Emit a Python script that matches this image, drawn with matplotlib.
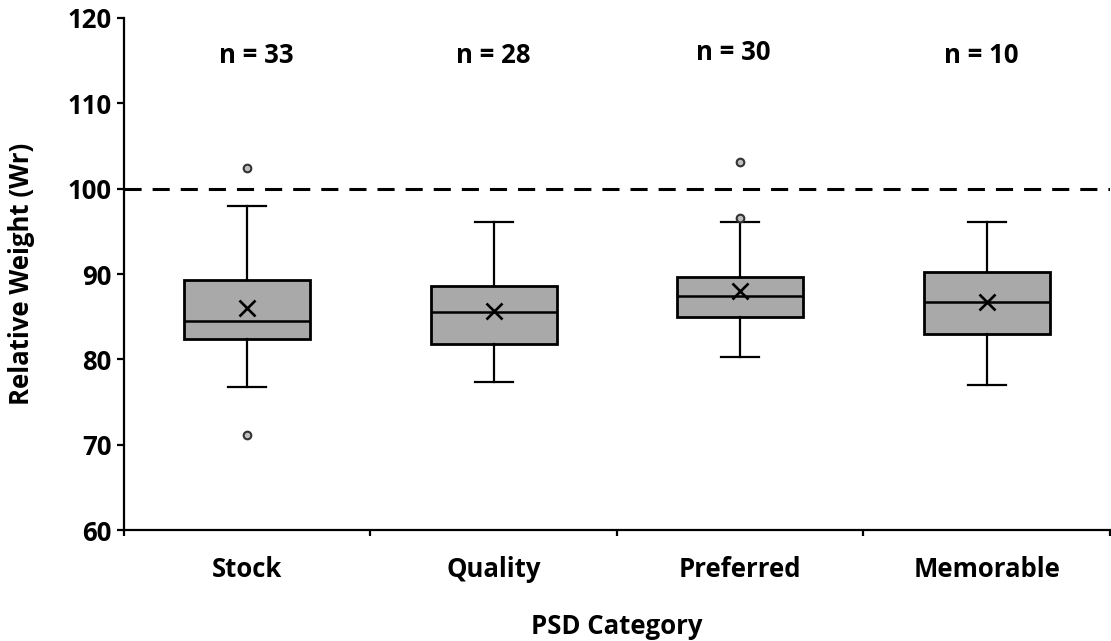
import matplotlib
matplotlib.use('Agg')
import matplotlib.pyplot as plt
from matplotlib.ticker import FixedLocator

# dados
categorias = ['Stock', 'Quality', 'Preferred', 'Memorable']
n_amostras = [33, 28, 30, 10]
whisker_min = [76.8, 77.3, 80.3, 77.0]
q1 = [82.4, 81.8, 85.0, 83.0]
mediana = [84.5, 85.5, 87.4, 86.7]
media = [86.0, 85.7, 88.0, 86.7]
q3 = [89.3, 88.6, 89.6, 90.2]
whisker_max = [98.0, 96.1, 96.1, 96.1]
outliers = [[102.4, 71.1], [], [103.1, 96.6], []]
n_pos_x = [1.035, 2.0, 2.97, 3.977]
n_pos_y = [114.7, 114.7, 115.1, 114.75]
referencia = 100

plt.rcParams['font.family'] = ['Open Sans', 'DejaVu Sans']
plt.rcParams['font.weight'] = 'bold'

fig = plt.figure(figsize=(11.11, 6.41), dpi=100)
ax = fig.add_axes([0.1116, 0.173, 0.8874, 0.799])

stats = []
for i in range(len(categorias)):
    stats.append({
        'label': categorias[i],
        'whislo': whisker_min[i],
        'q1': q1[i],
        'med': mediana[i],
        'mean': media[i],
        'q3': q3[i],
        'whishi': whisker_max[i],
        'fliers': outliers[i],
    })

ax.axhline(referencia, color='black', lw=2.2, dashes=(5.6, 3.6), zorder=1)

ax.bxp(
    stats,
    positions=range(1, len(categorias) + 1),
    widths=0.51,
    patch_artist=True,
    showmeans=True,
    capwidths=0.155,
    boxprops=dict(facecolor='#A9A9A9', edgecolor='black', linewidth=2.0),
    medianprops=dict(color='black', linewidth=1.8),
    whiskerprops=dict(color='black', linewidth=1.6),
    capprops=dict(color='black', linewidth=1.6),
    meanprops=dict(marker='x', markeredgecolor='black', markersize=12, markeredgewidth=1.9),
    flierprops=dict(marker='o', markerfacecolor='#BFBFBF', markeredgecolor='#333333',
                    markersize=5.5, markeredgewidth=1.5),
    zorder=3,
)

for i, n in enumerate(n_amostras):
    ax.text(n_pos_x[i], n_pos_y[i], f'n = {n}', ha='center', va='baseline',
            fontsize=18.5, fontweight='bold')

ax.set_xlim(0.5, len(categorias) + 0.5)
ax.set_ylim(60, 120)
ax.set_yticks(range(60, 121, 10))

ax.spines['top'].set_visible(False)
ax.spines['right'].set_visible(False)
ax.spines['left'].set_linewidth(1.6)
ax.spines['bottom'].set_linewidth(1.6)

ax.tick_params(axis='y', direction='out', length=5, width=1.6, labelsize=18.5, pad=4)
ax.tick_params(axis='x', which='major', length=0, labelsize=18.5, pad=19)
ax.xaxis.set_minor_locator(FixedLocator([0.5, 1.5, 2.5, 3.5, 4.5]))
ax.tick_params(axis='x', which='minor', direction='out', length=4, width=1.6)

ax.set_ylabel('Relative Weight (Wr)', fontsize=18.5, fontweight='bold')
ax.set_xlabel('PSD Category', fontsize=18.5, fontweight='bold')
ax.yaxis.set_label_coords(-0.0903, 0.5)
ax.xaxis.set_label_coords(0.5, -0.162)

fig.savefig('out.png', dpi=100)
